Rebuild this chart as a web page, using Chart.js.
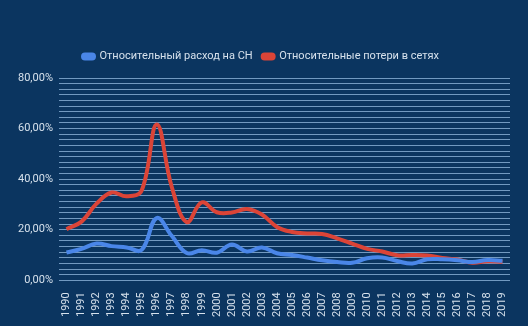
<!DOCTYPE html>
<html>
<head>
<meta charset="utf-8">
<script src="https://cdn.jsdelivr.net/npm/chart.js@4/dist/chart.umd.min.js"></script>
<style>
  html, body { margin: 0; padding: 0; background: #0b3560; }
  #wrap { width: 528px; height: 326px; }
</style>
</head>
<body>
<div id="wrap"><canvas id="c" width="528" height="326"></canvas></div>
<script>
// Years on the horizontal axis
const years = ['1990','1991','1992','1993','1994','1995','1996','1997','1998','1999',
               '2000','2001','2002','2003','2004','2005','2006','2007','2008','2009',
               '2010','2011','2012','2013','2014','2015','2016','2017','2018','2019'];

// Относительный расход на собственные нужды, %
const ownNeeds = [11.0, 12.4, 14.5, 13.5, 13.0, 12.0, 24.6, 17.6, 10.8, 11.9,
                  10.9, 14.1, 11.4, 13.0, 10.7, 10.0, 9.0, 7.9, 7.2, 6.9,
                  8.7, 9.0, 7.6, 6.6, 8.3, 8.3, 7.9, 7.2, 8.0, 7.7];

// Относительные потери в сетях, %
const gridLosses = [20.2, 23.2, 30.3, 34.7, 33.2, 35.5, 61.6, 37.0, 23.0, 30.8,
                    26.9, 26.8, 28.2, 26.0, 21.1, 19.1, 18.5, 18.3, 16.6, 14.5,
                    12.4, 11.4, 9.9, 10.0, 9.8, 8.8, 8.2, 6.9, 7.5, 7.3];

// Labelled values on the vertical axis, %
const yLabelValues = [0, 20, 40, 60, 80];
const yMax = 80;
const gridDivisions = 36;

const textColor = '#d6e1ec';
const fontFamily = 'Roboto, "Liberation Sans", Arial, sans-serif';

const fmtPct = v => v.toFixed(2).replace('.', ',') + '%';

// Extra space between the legend and the plot area
const legendGap = {
  id: 'legendGap',
  beforeInit(chart) {
    const fit = chart.legend.fit;
    chart.legend.fit = function () {
      fit.call(this);
      this.height += 6;
    };
  }
};

new Chart(document.getElementById('c'), {
  type: 'line',
  data: {
    labels: years,
    datasets: [
      {
        label: 'Относительный расход на СН',
        data: ownNeeds,
        borderColor: '#4a86e8',
        backgroundColor: '#4a86e8',
        borderWidth: 4,
        pointRadius: 0,
        tension: 0.4
      },
      {
        label: 'Относительные потери в сетях',
        data: gridLosses,
        borderColor: '#db4437',
        backgroundColor: '#db4437',
        borderWidth: 4,
        pointRadius: 0,
        tension: 0.4
      }
    ]
  },
  plugins: [legendGap],
  options: {
    responsive: false,
    animation: false,
    layout: { padding: { top: 41, left: 12, right: 18, bottom: 5 } },
    plugins: {
      legend: {
        position: 'top',
        labels: {
          color: textColor,
          font: { family: fontFamily, size: 11 },
          boxWidth: 11,
          boxHeight: 4,
          useBorderRadius: true,
          borderRadius: 2,
          padding: 10
        }
      },
      tooltip: { enabled: false }
    },
    scales: {
      x: {
        offset: true,
        grid: { display: false },
        border: { display: false },
        ticks: {
          color: textColor,
          font: { family: fontFamily, size: 11 },
          minRotation: 90,
          maxRotation: 90,
          autoSkip: false,
          padding: 4
        }
      },
      y: {
        min: 0,
        max: yMax,
        border: { display: false },
        grid: { color: 'rgba(150,188,226,0.75)', lineWidth: 1, drawTicks: false },
        afterBuildTicks: axis => {
          const t = [];
          for (let i = 0; i <= gridDivisions; i++) t.push({ value: yMax * i / gridDivisions });
          axis.ticks = t;
        },
        ticks: {
          color: textColor,
          font: { family: fontFamily, size: 11 },
          autoSkip: false,
          padding: 6,
          callback: v => {
            const hit = yLabelValues.find(l => Math.abs(l - v) < 1e-6);
            return hit === undefined ? '' : fmtPct(hit);
          }
        }
      }
    }
  }
});
</script>
</body>
</html>
